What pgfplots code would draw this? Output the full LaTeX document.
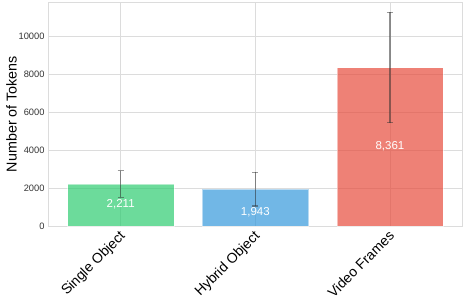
\documentclass[border=0pt]{standalone}
\usepackage{pgfplots}
\pgfplotsset{compat=1.18}
\usepackage{fontspec}
\setmainfont{Liberation Sans}
\definecolor{cgreen}{HTML}{2ECC71}
\definecolor{cblue}{HTML}{3498DB}
\definecolor{cred}{HTML}{E74C3C}
\definecolor{gridc}{HTML}{DCDCDC}
\definecolor{tickc}{HTML}{333333}
\begin{document}
\begin{tikzpicture}[x=1pt,y=1pt]
\begin{axis}[
  scale only axis,
  width=414pt, height=224pt,
  at={(0,0)}, anchor=south west,
  xmin=-0.54, xmax=2.535,
  ymin=0, ymax=11820,
  xtick={0,1,2},
  xticklabels={Single Object,Hybrid Object,Video Frames},
  xticklabel style={rotate=45, anchor=north east, font=\fontsize{14}{16}\selectfont, text=black, inner sep=1pt, xshift=-3pt},
  ytick={0,2000,4000,6000,8000,10000},
  scaled y ticks=false,
  yticklabel style={font=\fontsize{9.3}{10}\selectfont, text=tickc},
  /pgf/number format/assume math mode=true,
  /pgf/number format/.cd, set thousands separator={}, /pgfplots/.cd,
  ylabel={Number of Tokens},
  ylabel style={font=\fontsize{14.3}{16}\selectfont, at={(ticklabel cs:0.5)}, anchor=south, yshift=-5pt},
  grid=major,
  major grid style={gridc, line width=0.8pt},
  axis line style={gridc, line width=0.8pt},
  tick style={draw=none},
  bar width=0.79,
  error bars/error bar style={tickc, line width=1.2pt},
  error bars/error mark options={rotate=90, mark size=3pt, tickc, line width=1.1pt},
]
\addplot[ybar, bar shift=0pt, fill=cgreen, fill opacity=0.7, draw=white, draw opacity=0.5,
  error bars/.cd, y dir=both, y explicit]
  coordinates {(0,2211) +- (0,700)};
\addplot[ybar, bar shift=0pt, fill=cblue, fill opacity=0.7, draw=white, draw opacity=0.5,
  error bars/.cd, y dir=both, y explicit]
  coordinates {(1,1943) +- (0,890)};
\addplot[ybar, bar shift=0pt, fill=cred, fill opacity=0.7, draw=white, draw opacity=0.5,
  error bars/.cd, y dir=both, y explicit]
  coordinates {(2,8361) +- (0,2910)};
\addplot[only marks, mark=none, point meta=explicit symbolic,
  nodes near coords, nodes near coords align={center},
  every node near coord/.append style={anchor=center, text=white, font=\fontsize{11.5}{14}\selectfont}]
  table[meta=label] {
  x y label
  0 1130 {2,211}
  1 720 {1,943}
  2 4200 {8,361}
  };
\end{axis}
\pgfresetboundingbox
\path[use as bounding box] (-48pt,-75pt) rectangle (416pt,226pt);
\end{tikzpicture}
\end{document}
